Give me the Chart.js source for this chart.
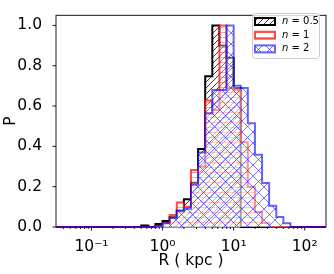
<!DOCTYPE html>
<html>
<head>
<meta charset="utf-8">
<script src="https://cdn.jsdelivr.net/npm/chart.js@4.4.1/dist/chart.umd.min.js"></script>
<style>
  html, body { margin: 0; padding: 0; background: #fff; }
  canvas { display: block; }
</style>
</head>
<body>
<canvas id="histChart" width="334" height="274"></canvas>
<script>
// ================= DATA =================
// bin edges, log10(R / kpc)
const binEdgesLog = [
  -1.5, -1.4, -1.3, -1.2, -1.1, -1.0, -0.9, -0.8, -0.7, -0.6,
  -0.5, -0.4, -0.3, -0.2, -0.1, 0.0, 0.1, 0.2, 0.3, 0.4,
  0.5, 0.6, 0.7, 0.8, 0.9, 1.0, 1.1, 1.2, 1.3, 1.4,
  1.5, 1.6, 1.7, 1.8, 1.9, 2.0, 2.1, 2.2, 2.3
];

const seriesLabels = ["0.5", "1", "2"];

// normalised counts (P), one value per bin
const pN05 = [
  0, 0, 0, 0, 0, 0, 0, 0, 0, 0, 0, 0,
  0.008, 0, 0.015, 0.03, 0.05, 0.08, 0.138, 0.22, 0.387, 0.748, 1.0, 0.9, 0.84, 0.69,
  0, 0, 0, 0, 0, 0, 0, 0, 0, 0, 0, 0
];
const pN1 = [
  0, 0, 0, 0, 0, 0, 0, 0, 0, 0, 0, 0, 0, 0,
  0.006, 0.02, 0.06, 0.122, 0.1, 0.283, 0.3, 0.627, 0.58, 1.0, 0.69, 0.68, 0.42, 0.2, 0.074, 0.02,
  0, 0, 0, 0, 0, 0, 0, 0
];
const pN2 = [
  0, 0, 0, 0, 0, 0, 0, 0, 0, 0, 0, 0, 0, 0,
  0.005, 0.018, 0.045, 0.08, 0.09, 0.21, 0.37, 0.563, 0.68, 0.68, 1.0, 0.70, 0.69, 0.515, 0.358, 0.218, 0.106, 0.05, 0.018,
  0, 0, 0, 0, 0
];

const yTickValues = [0, 0.2, 0.4, 0.6, 0.8, 1.0];
const xTickValues = [0.1, 1, 10, 100];
const xTickLabels = ["10\u207B\u00B9", "10\u2070", "10\u00B9", "10\u00B2"];


// ================= HELPERS =================
function stepPoints(values) {
  const pts = [{ x: 10 ** binEdgesLog[0], y: 0 }];
  values.forEach((v, i) => pts.push({ x: 10 ** binEdgesLog[i], y: v }));
  pts.push({ x: 10 ** binEdgesLog[values.length], y: 0 });
  return pts;
}

function makeHatch(kind, color, size, bg, lw) {
  const c = document.createElement("canvas");
  c.width = size;
  c.height = size;
  const g = c.getContext("2d");
  if (bg) {
    g.fillStyle = bg;
    g.fillRect(0, 0, size, size);
  }
  g.strokeStyle = color;
  g.lineWidth = lw;
  g.beginPath();
  if (kind === "/" || kind === "x") {
    [-size, 0, size].forEach(k => {
      g.moveTo(k, size);
      g.lineTo(k + size, 0);
    });
  }
  if (kind === "x") {
    [-size, 0, size].forEach(k => {
      g.moveTo(k, 0);
      g.lineTo(k + size, size);
    });
  }
  if (kind === "-") {
    g.moveTo(0, size / 2);
    g.lineTo(size, size / 2);
  }
  g.stroke();
  return g.createPattern(c, "repeat");
}

const hatchBlack = makeHatch("/", "rgba(0,0,0,0.85)", 6, null, 0.9);
const hatchRed = makeHatch("-", "rgba(255,0,0,0.35)", 5, "rgba(255,255,255,0.4)", 1);
const hatchBlue = makeHatch("x", "rgba(40,40,255,0.7)", 11, "rgba(255,255,255,0.4)", 0.9);

const edgeBlack = "#000000";
const edgeRed = "rgba(255,0,0,0.7)";
const edgeBlue = "rgba(0,0,255,0.6)";

const tickFont = { family: "DejaVu Sans", size: 15.5 };


// ================= FRAME + TICKS =================
const framePlugin = {
  id: "frame",
  beforeDatasetsDraw(chart) {
    const { ctx, chartArea: a } = chart;
    const xs = chart.scales.x, ys = chart.scales.y;
    ctx.save();
    ctx.strokeStyle = "#000";
    ctx.lineWidth = 0.9;
    ctx.strokeRect(a.left, a.top, a.right - a.left, a.bottom - a.top);

    ctx.beginPath();
    // x ticks, major and minor
    for (let k = -2; k <= 2; k++) {
      for (let m = 1; m <= 9; m++) {
        const v = m * 10 ** k;
        if (v < xs.min || v > xs.max) continue;
        const px = xs.getPixelForValue(v);
        const len = m === 1 ? 3.5 : 2;
        ctx.moveTo(px, a.bottom);
        ctx.lineTo(px, a.bottom + len);
      }
    }
    // y ticks
    yTickValues.forEach(v => {
      const py = ys.getPixelForValue(v);
      ctx.moveTo(a.left, py);
      ctx.lineTo(a.left - 3.5, py);
    });
    ctx.stroke();
    ctx.restore();
  }
};


// ================= LEGEND =================
const legendPlugin = {
  id: "hatchLegend",
  afterDatasetsDraw(chart) {
    const ctx = chart.ctx;
    const items = [
      [hatchBlack, edgeBlack, seriesLabels[0]],
      [hatchRed, edgeRed, seriesLabels[1]],
      [hatchBlue, edgeBlue, seriesLabels[2]]
    ];
    const bx = 252, by = 13, bw = 67, bh = 45;
    ctx.save();
    ctx.beginPath();
    ctx.roundRect(bx + 0.5, by + 0.5, bw, bh, 3);
    ctx.fillStyle = "rgba(255,255,255,0.8)";
    ctx.fill();
    ctx.strokeStyle = "#cccccc";
    ctx.lineWidth = 1;
    ctx.stroke();

    items.forEach((it, i) => {
      const cy = by + 8.5 + i * 13.7;
      ctx.fillStyle = "#fff";
      ctx.fillRect(255, cy - 3.5, 20, 7);
      ctx.fillStyle = it[0];
      ctx.fillRect(255, cy - 3.5, 20, 7);
      ctx.strokeStyle = it[1];
      ctx.lineWidth = 2;
      ctx.strokeRect(255, cy - 3.5, 20, 7);

      ctx.fillStyle = "#000";
      ctx.textBaseline = "middle";
      ctx.font = "italic 10px 'DejaVu Sans'";
      ctx.fillText("n", 282, cy);
      const w = ctx.measureText("n").width;
      ctx.font = "10px 'DejaVu Sans'";
      ctx.fillText(" = " + it[2], 282 + w, cy);
    });
    ctx.restore();
  }
};


// ================= CHART =================
const canvas = document.getElementById("histChart");

new Chart(canvas.getContext("2d"), {
  type: "line",
  data: {
    datasets: [
      {
        label: "n = " + seriesLabels[0],
        data: stepPoints(pN05),
        borderColor: edgeBlack,
        backgroundColor: hatchBlack,
        order: 3
      },
      {
        label: "n = " + seriesLabels[1],
        data: stepPoints(pN1),
        borderColor: edgeRed,
        backgroundColor: hatchRed,
        order: 2
      },
      {
        label: "n = " + seriesLabels[2],
        data: stepPoints(pN2),
        borderColor: edgeBlue,
        backgroundColor: hatchBlue,
        order: 1
      }
    ]
  },
  options: {
    responsive: false,
    animation: false,
    events: [],
    layout: { padding: { top: 8, right: 8, left: 0, bottom: 0 } },
    datasets: {
      line: {
        stepped: "before",
        fill: "origin",
        borderWidth: 2,
        pointRadius: 0,
        clip: false
      }
    },
    scales: {
      x: {
        type: "logarithmic",
        min: 10 ** binEdgesLog[0],
        max: 10 ** binEdgesLog[binEdgesLog.length - 1],
        grid: { display: false },
        border: { display: false },
        afterBuildTicks: s => { s.ticks = xTickValues.map(v => ({ value: v })); },
        afterFit: s => { s.height = 47; },
        ticks: {
          autoSkip: false,
          maxRotation: 0,
          padding: 3,
          color: "#000",
          font: tickFont,
          callback: (v, i) => xTickLabels[i]
        },
        title: {
          display: true,
          text: "R ( kpc )",
          color: "#000",
          font: tickFont,
          padding: { top: 0, bottom: 4 }
        }
      },
      y: {
        min: 0,
        max: 1.05,
        grid: { display: false },
        border: { display: false },
        afterBuildTicks: s => { s.ticks = yTickValues.map(v => ({ value: v })); },
        afterFit: s => { s.width = 56; },
        ticks: {
          padding: 6,
          color: "#000",
          font: tickFont,
          callback: v => v.toFixed(1)
        },
        title: {
          display: true,
          text: "P",
          color: "#000",
          font: tickFont,
          padding: { top: 2, bottom: 0 }
        }
      }
    },
    plugins: {
      legend: { display: false },
      tooltip: { enabled: false }
    }
  },
  plugins: [framePlugin, legendPlugin]
});
</script>
</body>
</html>
